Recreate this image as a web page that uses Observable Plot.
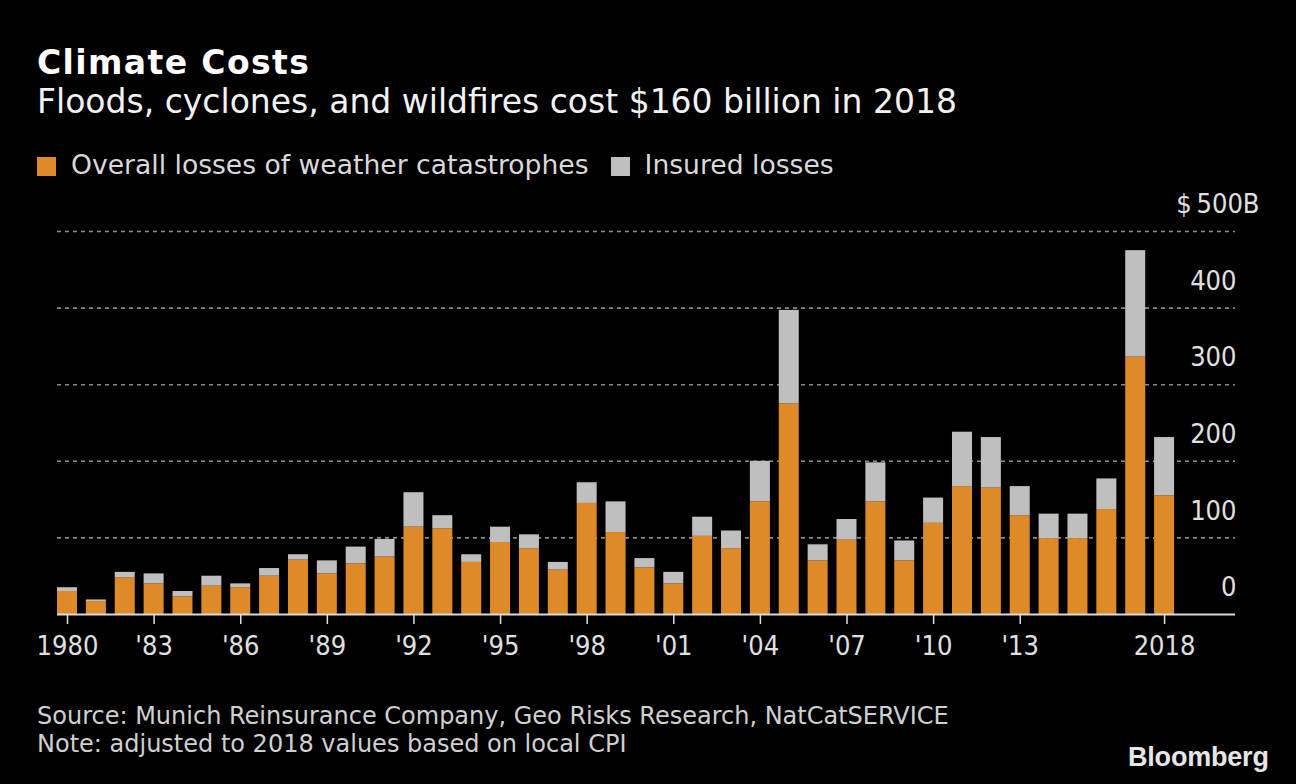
<!DOCTYPE html>
<html>
<head>
<meta charset="utf-8">
<script src="https://cdn.jsdelivr.net/npm/d3@7"></script>
<script src="https://cdn.jsdelivr.net/npm/@observablehq/plot@0.6"></script>
<style>
  html, body { margin: 0; padding: 0; background: #000; }
  body { width: 1296px; height: 784px; position: relative; overflow: hidden; font-family: "DejaVu Sans", sans-serif; }
  .abs { position: absolute; white-space: nowrap; line-height: 1; }
  #title { left: 37px; top: 46px; font-size: 33px; font-weight: 700; color: #fff; letter-spacing: 1.4px; }
  #subtitle { left: 37px; top: 85px; font-size: 33px; color: #f2f2f2; }
  #legend { left: 37px; top: 152px; font-size: 26.6px; color: #d9d9d9; display: flex; align-items: center; z-index: 2; }
  #legend .sw { display: inline-block; width: 19px; height: 19px; margin-right: 15px; margin-top: 2px; }
  #legend .item { display: flex; align-items: center; margin-right: 22px; }
  #chart { position: absolute; left: 0; top: 170px; z-index: 1; }
  #source { left: 37px; top: 704px; font-size: 24px; color: #d0d0d0; }
  #note { left: 37px; top: 732px; font-size: 24px; color: #d0d0d0; }
  #logo { left: 1128px; top: 744px; font-size: 27px; font-weight: 700; color: #e6e6e6; font-family: "Liberation Sans", Arial, sans-serif; letter-spacing: -0.2px; }
</style>
</head>
<body>
<div id="title" class="abs">Climate Costs</div>
<div id="subtitle" class="abs">Floods, cyclones, and wildfires cost $160 billion in 2018</div>
<div id="chart"></div>
<div id="legend" class="abs"></div>
<div id="source" class="abs">Source: Munich Reinsurance Company, Geo Risks Research, NatCatSERVICE</div>
<div id="note" class="abs">Note: adjusted to 2018 values based on local CPI</div>
<div id="logo" class="abs">Bloomberg</div>
<script>
// ---- data (USD billions, 2018 values) ----
const years = [1980,1981,1982,1983,1984,1985,1986,1987,1988,1989,
               1990,1991,1992,1993,1994,1995,1996,1997,1998,1999,
               2000,2001,2002,2003,2004,2005,2006,2007,2008,2009,
               2010,2011,2012,2013,2014,2015,2016,2017,2018];
const overallLosses = [30,17,48,40,23,37,35,50,71,53,
                       66,75,114,112,68,94,86,58,145,107,
                       61,40,102,86,147,275,70,97,147,70,
                       119,167,165,129,99,99,137,336,155];
const insuredLosses = [5,2,7,13,7,13,5,10,7,17,
                       22,23,45,17,10,20,18,10,27,40,
                       12,15,25,23,53,122,21,27,51,26,
                       33,71,66,38,32,32,40,139,76];
const seriesNames = ["Overall losses of weather catastrophes", "Insured losses"];
const seriesColors = ["#df8a28", "#bfbfbf"];
const xTickYears = [1980,1983,1986,1989,1992,1995,1998,2001,2004,2007,2010,2013,2018];
const xTickLabels = ["1980","'83","'86","'89","'92","'95","'98","'01","'04","'07","'10","'13","2018"];
const yTicks = [0,100,200,300,400];
const yTopTick = [500];
const yTopLabel = ["$\u2009500B"];
const gridValues = [100,200,300,400,500];

// legend
const legend = document.getElementById("legend");
seriesNames.forEach((name, i) => {
  const item = document.createElement("span");
  item.className = "item";
  const sw = document.createElement("span");
  sw.className = "sw";
  sw.style.background = seriesColors[i];
  item.appendChild(sw);
  item.appendChild(document.createTextNode(name));
  legend.appendChild(item);
});

// long table
const table = [];
years.forEach((y, i) => {
  table.push({year: y, series: seriesNames[0], value: overallLosses[i]});
  table.push({year: y, series: seriesNames[1], value: insuredLosses[i]});
});

const font = "'DejaVu Sans Condensed', 'DejaVu Sans', sans-serif";
const chart = Plot.plot({
  width: 1296,
  height: 520,
  marginLeft: 57,
  marginRight: 61,
  marginTop: 61,
  marginBottom: 76,
  style: {background: "transparent", color: "#d9d9d9", fontFamily: font, fontSize: "26px", fontStretch: "condensed"},
  x: {type: "band", domain: years, paddingInner: 0.307, paddingOuter: 1.055, align: 0, label: null},
  y: {domain: [0, 500], label: null},
  color: {domain: seriesNames, range: seriesColors},
  marks: [
    Plot.ruleY(gridValues, {stroke: "#8c8c8c", strokeWidth: 1.6, strokeDasharray: "4,4"}),
    Plot.barY(table, {x: "year", y: "value", fill: "series", order: seriesNames}),
    Plot.ruleY([0], {stroke: "#d9d9d9", strokeWidth: 2}),
    Plot.axisX({ticks: xTickYears, tickFormat: d => xTickLabels[xTickYears.indexOf(d)], tickSize: 10, tickPadding: 11, stroke: "#e0e0e0", strokeWidth: 1.5, fill: "#e0e0e0", fontSize: 27, label: null}),
    Plot.axisY({anchor: "right", ticks: yTicks, tickSize: 0, tickPadding: 1, textAnchor: "end", dy: -27, fill: "#e0e0e0", fontSize: 27, tickFormat: d => String(d), label: null}),
    Plot.text(yTopTick, {y: d => d, text: yTopLabel, frameAnchor: "right", textAnchor: "end", dx: 24, dy: -27, fill: "#e0e0e0", fontSize: 27})
  ]
});
document.getElementById("chart").appendChild(chart);
</script>
</body>
</html>
